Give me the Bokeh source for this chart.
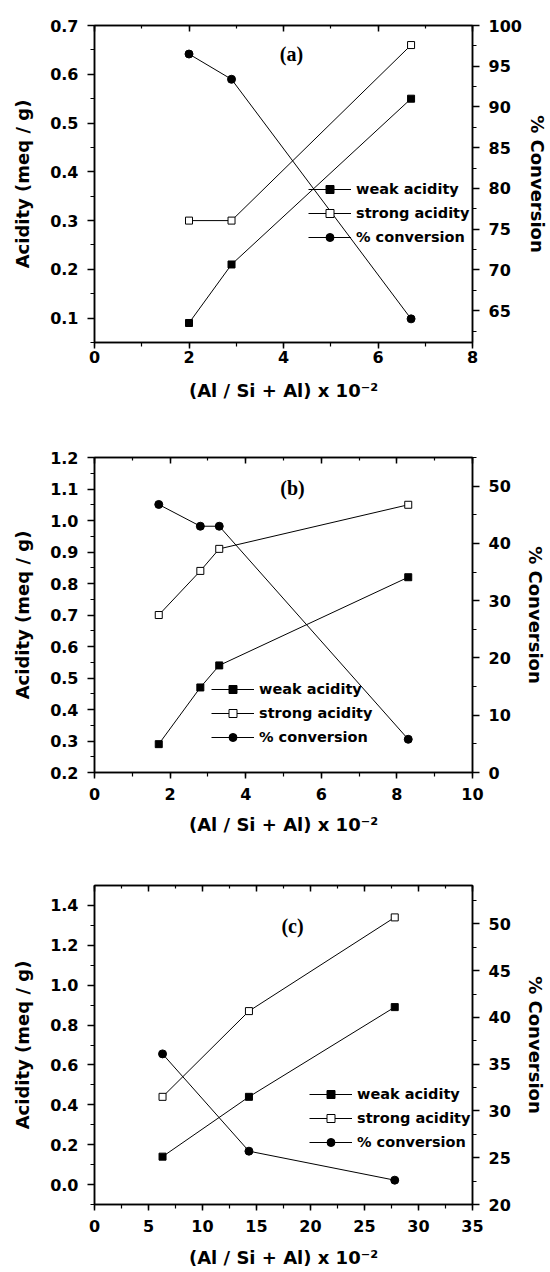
from bokeh.plotting import figure
from bokeh.models import (Range1d, LinearAxis, SingleIntervalTicker, PrintfTickFormatter,
                          Legend, LegendItem, Label)
from bokeh.layouts import column
from bokeh.embed import file_html
from bokeh.resources import INLINE

# ---------------- data ----------------
a_x = [2.0, 2.9, 6.7]
a_weak = [0.09, 0.21, 0.55]
a_strong = [0.30, 0.30, 0.66]
a_conv = [96.5, 93.4, 64.0]

b_x = [1.7, 2.8, 3.3, 8.3]
b_weak = [0.29, 0.47, 0.54, 0.82]
b_strong = [0.70, 0.84, 0.91, 1.05]
b_conv = [46.8, 43.0, 43.0, 5.8]

c_x = [6.3, 14.3, 27.8]
c_weak = [0.14, 0.44, 0.89]
c_strong = [0.44, 0.87, 1.34]
c_conv = [36.1, 25.7, 22.6]

series_labels = ["weak acidity", "strong acidity", "% conversion"]
panel_tags = ["(a)", "(b)", "(c)"]
y_title = "Acidity (meq / g)"
y2_title = "% Conversion"
x_title = "(Al / Si + Al) x 10\u207b\u00b2"

FONT = "DejaVu Sans"


def style_axis(ax, tick_out=7, minor_out=4, standoff=9):
    ax.axis_line_color = "black"
    ax.axis_line_width = 1.5
    ax.major_tick_line_color = "black"
    ax.major_tick_line_width = 1.5
    ax.minor_tick_line_color = "black"
    ax.minor_tick_line_width = 1.2
    ax.major_tick_in = 0
    ax.major_tick_out = tick_out
    ax.minor_tick_in = 0
    ax.minor_tick_out = minor_out
    ax.major_label_text_font = FONT
    ax.major_label_text_font_style = "bold"
    ax.major_label_text_font_size = "16px"
    ax.major_label_text_color = "black"
    ax.major_label_standoff = standoff
    ax.axis_label_text_font = FONT
    ax.axis_label_text_font_style = "bold"
    ax.axis_label_text_font_size = "18px"
    ax.axis_label_text_color = "black"


def make_panel(x, weak, strong, conv, tag, cfg):
    p = figure(width=550, height=cfg["height"], output_backend="svg", toolbar_location=None,
               x_range=Range1d(*cfg["xr"]), y_range=Range1d(*cfg["yr"]),
               min_border_left=cfg["mbl"], min_border_right=cfg["mbr"],
               min_border_top=cfg["mbt"], min_border_bottom=cfg["mbb"])
    p.extra_y_ranges = {"right": Range1d(*cfg["y2r"])}
    p.xgrid.visible = False
    p.ygrid.visible = False
    p.outline_line_color = "black"
    p.outline_line_width = 1.5
    p.background_fill_color = "white"
    p.border_fill_color = "white"

    xa = p.xaxis[0]
    xa.ticker = SingleIntervalTicker(interval=cfg["xi"], num_minor_ticks=2)
    style_axis(xa, tick_out=6, minor_out=4, standoff=cfg["xsd"])
    xa.axis_label = x_title
    xa.axis_label_standoff = cfg["xlsd"]

    ya = p.yaxis[0]
    ya.ticker = SingleIntervalTicker(interval=cfg["yi"], num_minor_ticks=2)
    ya.formatter = PrintfTickFormatter(format="%.1f")
    style_axis(ya)
    ya.axis_label = y_title
    ya.axis_label_standoff = cfg["ylsd"]

    ra = LinearAxis(y_range_name="right",
                    ticker=SingleIntervalTicker(interval=cfg["y2i"], num_minor_ticks=2))
    style_axis(ra)
    ra.axis_label = y2_title
    ra.axis_label_standoff = cfg["y2lsd"]
    p.add_layout(ra, "right")

    ta = LinearAxis(ticker=SingleIntervalTicker(interval=cfg["xi"], num_minor_ticks=2))
    style_axis(ta)
    ta.major_tick_out = 0
    ta.major_tick_in = 6
    ta.minor_tick_out = 0
    ta.minor_tick_in = 3
    ta.major_label_text_color = None
    ta.major_label_text_font_size = "1px"
    ta.major_label_standoff = 0
    p.add_layout(ta, "above")

    l1 = p.line(x, weak, line_color="black", line_width=1)
    s1 = p.scatter(x, weak, marker="square", size=7, fill_color="black", line_color="black")
    l2 = p.line(x, strong, line_color="black", line_width=1)
    s2 = p.scatter(x, strong, marker="square", size=7, fill_color="white",
                   line_color="black", line_width=1)
    l3 = p.line(x, conv, y_range_name="right", line_color="black", line_width=1)
    s3 = p.scatter(x, conv, y_range_name="right", marker="circle", size=8,
                   fill_color="black", line_color="black")

    legend = Legend(items=[LegendItem(label=series_labels[0], renderers=[l1, s1]),
                           LegendItem(label=series_labels[1], renderers=[l2, s2]),
                           LegendItem(label=series_labels[2], renderers=[l3, s3])],
                    location=cfg["leg"], glyph_width=43, glyph_height=20, label_height=20,
                    spacing=4, padding=0, margin=0, label_standoff=5,
                    border_line_color=None, background_fill_alpha=0,
                    label_text_font=FONT, label_text_font_style="bold",
                    label_text_font_size="14.5px", label_text_color="black")
    p.add_layout(legend)

    p.add_layout(Label(x=cfg["tag"][0], y=cfg["tag"][1], x_units="screen", y_units="screen",
                       text=tag, text_font="Liberation Serif", text_font_style="bold",
                       text_font_size="20px", text_color="black",
                       text_align="center", text_baseline="middle"))
    return p


cfg_a = dict(height=420, xr=(0, 8), yr=(0.05, 0.7001), y2r=(61.1, 100.001),
             xi=2, yi=0.1, y2i=5, mbl=93, mbr=74, mbt=25, mbb=78,
             xsd=2, xlsd=14, ylsd=14, y2lsd=2, leg=(214, 95), tag=(197, 289))
cfg_b = dict(height=420, xr=(0, 10), yr=(0.2, 1.2001), y2r=(0, 55),
             xi=2, yi=0.1, y2i=10, mbl=93, mbr=72, mbt=37, mbb=68,
             xsd=9, xlsd=11, ylsd=14, y2lsd=11, leg=(117, 25), tag=(198, 285))
cfg_c = dict(height=432, xr=(0, 35), yr=(-0.1, 1.5), y2r=(20, 54.1),
             xi=5, yi=0.2, y2i=5, mbl=94, mbr=71, mbt=45, mbb=68,
             xsd=9, xlsd=12, ylsd=14, y2lsd=11, leg=(215, 52), tag=(198, 279))

pa = make_panel(a_x, a_weak, a_strong, a_conv, panel_tags[0], cfg_a)
pb = make_panel(b_x, b_weak, b_strong, b_conv, panel_tags[1], cfg_b)
pc = make_panel(c_x, c_weak, c_strong, c_conv, panel_tags[2], cfg_c)

layout = column(pa, pb, pc, spacing=0)
open("out.html", "w").write(file_html(layout, INLINE))
